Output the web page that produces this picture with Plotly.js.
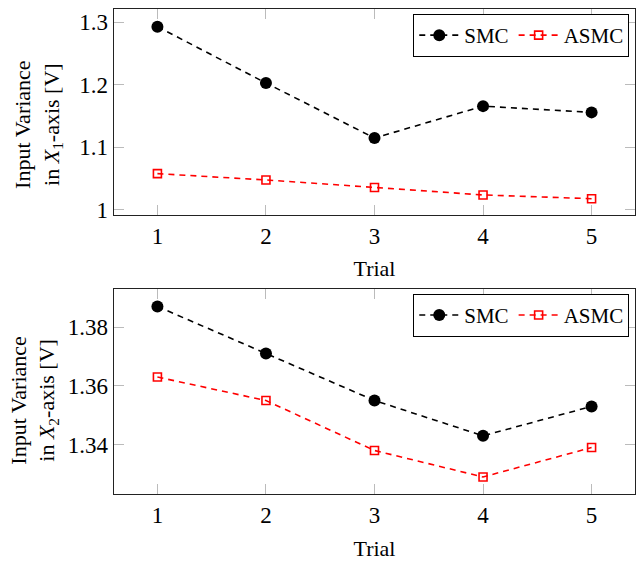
<!DOCTYPE html>
<html>
<head>
<meta charset="utf-8">
<script src="https://cdn.plot.ly/plotly-3.0.1.min.js"></script>
<style>html,body{margin:0;padding:0;background:#fff;}#chart{width:643px;height:561px;}</style>
</head>
<body>
<div id="chart"></div>
<script>
const trials = [1, 2, 3, 4, 5];
const smcX1 = [1.293, 1.203, 1.115, 1.166, 1.156];
const asmcX1 = [1.058, 1.048, 1.036, 1.024, 1.018];
const smcX2 = [1.387, 1.371, 1.355, 1.343, 1.353];
const asmcX2 = [1.363, 1.355, 1.338, 1.329, 1.339];
const topTicks = [1, 1.1, 1.2, 1.3];
const topTickText = ['1', '1.1', '1.2', '1.3'];
const botTicks = [1.34, 1.36, 1.38];
const botTickText = ['1.34', '1.36', '1.38'];
const yTitleTop = 'Input Variance<br>in <i>X</i><sub>1</sub>-axis [V]';
const yTitleBot = 'Input Variance<br>in <i>X</i><sub>2</sub>-axis [V]';

const FONT = "'Liberation Serif', 'Times New Roman', serif";
const FS = 22;
const TFS = 23;

function smc(x, y, xa, ya, leg) {
  return {x: x, y: y, xaxis: xa, yaxis: ya, legend: leg, name: 'SMC', type: 'scatter', mode: 'lines+markers',
    line: {color: '#000', width: 1.6, dash: '6px,5px'},
    marker: {symbol: 'circle', size: 12, color: '#000'}};
}
function asmc(x, y, xa, ya, leg) {
  return {x: x, y: y, xaxis: xa, yaxis: ya, legend: leg, name: 'ASMC', type: 'scatter', mode: 'lines+markers',
    line: {color: '#ff0000', width: 1.6, dash: '6px,5px'},
    marker: {symbol: 'square-open', size: 8, color: '#ff0000', line: {color: '#ff0000', width: 1.6}}};
}

const data = [
  smc(trials, smcX1, 'x', 'y', 'legend'),
  asmc(trials, asmcX1, 'x', 'y', 'legend'),
  smc(trials, smcX2, 'x2', 'y2', 'legend2'),
  asmc(trials, asmcX2, 'x2', 'y2', 'legend2')
];

const xCommon = {
  range: [0.6, 5.4], tickvals: trials, ticktext: trials.map(String),
  ticks: 'inside', ticklen: 10, tickcolor: '#bbbbbb', tickwidth: 1,
  showline: true, linecolor: '#222', linewidth: 1.3, mirror: 'ticks',
  showgrid: false, zeroline: false,
  tickfont: {family: FONT, size: TFS, color: '#000'},
};
const yCommon = {
  ticks: 'inside', ticklen: 10, tickcolor: '#bbbbbb', tickwidth: 1,
  showline: true, linecolor: '#222', linewidth: 1.3, mirror: 'ticks',
  showgrid: false, zeroline: false,
  tickfont: {family: FONT, size: TFS, color: '#000'},
};

const legCommon = {
  orientation: 'h', xanchor: 'right', yanchor: 'top', x: 0.989,
  bgcolor: '#fff', bordercolor: '#000', borderwidth: 1,
  font: {family: FONT, size: 21, color: '#000'},
  itemwidth: 40, tracegroupgap: 0
};

const layout = {
  width: 643, height: 561,
  margin: {l: 114, r: 8, t: 9, b: 67},
  paper_bgcolor: '#fff', plot_bgcolor: '#fff',
  font: {family: FONT, color: '#000'},
  xaxis: Object.assign({}, xCommon, {anchor: 'y', domain: [0, 1],
    title: {text: 'Trial', font: {family: FONT, size: FS}, standoff: 13}}),
  yaxis: Object.assign({}, yCommon, {anchor: 'x', domain: [0.576, 1], range: [0.9925, 1.3213],
    tickvals: topTicks, ticktext: topTickText}),
  xaxis2: Object.assign({}, xCommon, {anchor: 'y2', domain: [0, 1],
    title: {text: 'Trial', font: {family: FONT, size: FS}, standoff: 13}}),
  yaxis2: Object.assign({}, yCommon, {anchor: 'x2', domain: [0, 0.423], range: [1.3232, 1.3930],
    tickvals: botTicks, ticktext: botTickText}),
  annotations: [
    {text: yTitleTop, xref: 'paper', yref: 'paper', x: -0.146, y: 0.763, xanchor: 'center', yanchor: 'middle',
     textangle: -90, showarrow: false, font: {family: FONT, size: FS, color: '#000'}},
    {text: yTitleBot, xref: 'paper', yref: 'paper', x: -0.154, y: 0.194, xanchor: 'center', yanchor: 'middle',
     textangle: -90, showarrow: false, font: {family: FONT, size: FS, color: '#000'}}
  ],
  legend: Object.assign({}, legCommon, {y: 0.9897}),
  legend2: Object.assign({}, legCommon, {y: 0.4127}),
  showlegend: true
};

Plotly.newPlot('chart', data, layout, {displayModeBar: false, staticPlot: true});
</script>
</body>
</html>
